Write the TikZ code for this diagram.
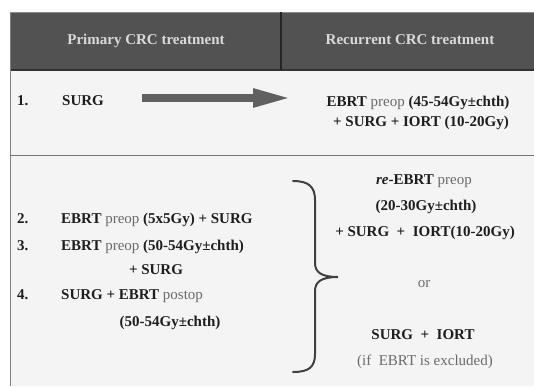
\documentclass[tikz,border=0pt]{standalone}
\usepackage{fontspec}
\setmainfont{Liberation Serif}
\usetikzlibrary{arrows.meta}
\definecolor{hdrbg}{HTML}{525252}
\definecolor{hdrtxt}{HTML}{DADADA}
\definecolor{bodybg}{HTML}{F4F4F4}
\definecolor{ink}{HTML}{1E1E1E}
\definecolor{softink}{HTML}{6A6A6A}
\definecolor{arrowgray}{HTML}{606060}
\newcommand{\lt}[1]{{\mdseries\color{softink}#1}}
\tikzset{
  txt/.style={font=\fontsize{15}{17}\selectfont\bfseries, text=ink, inner sep=0pt, text height=11pt, text depth=1pt},
  hdr/.style={txt, text=hdrtxt},
  lft/.style={txt, anchor=west},
  rule/.style={draw=#1, line width=1.5pt},
}
\begin{document}
\begin{tikzpicture}[x=1pt, y=-1pt]
\useasboundingbox (0,0) rectangle (534,386);
% backgrounds
\fill[white] (0,0) rectangle (534,386);
\fill[bodybg] (10,12) rectangle (534,386);
\fill[hdrbg] (10,12) rectangle (534,70);
\draw[rule=black!45, line width=0.8pt] (10,12.4) -- (534,12.4);
\draw[rule=black!80, line width=1.2pt] (10,70) -- (534,70);
\draw[rule=black!85] (281,12) -- (281,70);
\draw[rule=black!50] (10.5,12) -- (10.5,386);
\draw[rule=black!55] (10,155.5) -- (534,155.5);
% header
\node[hdr] (h1) at (146,39) {Primary CRC treatment};
\node[hdr] (h2) at (410,39) {Recurrent CRC treatment};
% row 1
\node[lft] (n1) at (17,100) {1.};
\node[lft] (s1) at (62,100) {SURG};
\node[txt] (r1a) at (418,101) {EBRT \lt{preop} (45-54Gy±chth)};
\node[txt] (r1b) at (421,121) {+ SURG + IORT (10-20Gy)};
\coordinate (a1) at (142,98);
\coordinate (a2) at (292,98);
\draw[arrowgray, line width=8pt, line cap=butt, -{Triangle[length=39pt, width=17pt]}] (a1) -- (a2);
% row 2 left
\node[lft] (n2) at (17,218) {2.};
\node[lft] (l2) at (61,218) {EBRT \lt{preop} (5x5Gy) + SURG};
\node[lft] (n3) at (17,245) {3.};
\node[lft] (l3) at (61,245) {EBRT \lt{preop} (50-54Gy±chth)};
\node[txt] (l3b) at (156,269) {+ SURG};
\node[lft] (n4) at (17,294) {4.};
\node[lft] (l4) at (61,294) {SURG + EBRT \lt{postop}};
\node[txt] (l4b) at (170,321) {(50-54Gy±chth)};
% brace
\draw[black!75, line width=2pt, line cap=round]
  (293,181) .. controls (309,181) and (315,187) .. (315,200)
  -- (315,263) .. controls (315,272) and (321,277) .. (338,277)
  .. controls (321,277) and (315,282) .. (315,291)
  -- (315,354) .. controls (315,367) and (309,372) .. (293,372);
% row 2 right
\node[txt] (r2a) at (424,179) {\textit{re}-EBRT \lt{preop}};
\node[txt] (r2b) at (426,205) {(20-30Gy±chth)};
\node[txt] (r2c) at (425,231) {+ SURG\ \ +\ \ IORT(10-20Gy)};
\node[txt] (r2d) at (424,282) {\lt{or}};
\node[txt] (r2e) at (423,334) {SURG\ \ +\ \ IORT};
\node[txt] (r2f) at (425,360) {\lt{(if\ \ EBRT is excluded)}};
\end{tikzpicture}
\end{document}
